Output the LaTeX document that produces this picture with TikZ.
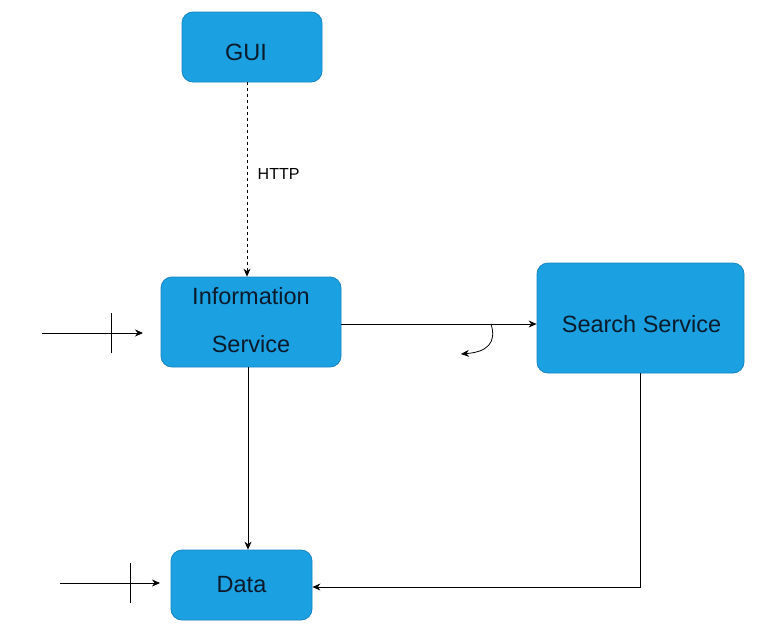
\documentclass[tikz,border=0pt]{standalone}
\usepackage{fontspec}
\setmainfont{Liberation Sans}
\usetikzlibrary{arrows.meta, positioning}

\definecolor{boxfill}{HTML}{1BA1E2}
\definecolor{boxline}{HTML}{1683C0}
\definecolor{boxtext}{HTML}{0B1A2A}

% shift a label inside its box: #1 = twice the x shift, #2 = y shift
\newcommand{\nudge}[3]{\hspace*{#1}\raisebox{#2}[\height][\depth]{#3}}

\tikzset{
  svc/.style={draw=boxline, fill=boxfill, rounded corners=11pt, line width=0.8pt,
              inner sep=0pt, align=center, text=boxtext,
              font=\fontsize{23.5}{28}\selectfont},
  flow/.style={-{Stealth[length=8pt, width=7pt]}, line width=0.8pt},
  tick/.style={line width=0.8pt}
}

\begin{document}
\begin{tikzpicture}[x=1pt, y=-1pt]
  \useasboundingbox (0,0) rectangle (762,640);
  % Services
  \node[svc, minimum width=140pt, minimum height=70pt] (gui) at (252,47) {\nudge{-12pt}{-5pt}{GUI}};
  \node[svc, minimum width=180pt, minimum height=90pt,
        font=\fontsize{23.5}{48}\selectfont] (info) at (251,322)
        {\nudge{0pt}{2pt}{Information}\\\nudge{0pt}{2pt}{Service}};
  \node[svc, minimum width=207pt, minimum height=110pt] (search) at (640.5,318) {\nudge{2pt}{-6pt}{Search Service}};
  \node[svc, minimum width=141pt, minimum height=70pt] (data) at (241.5,585) {Data};
  % Connectors
  \draw[flow, dashed] ([xshift=-5pt]gui.south) -- ([xshift=-4pt]info.north)
    node[pos=0.47, right=7pt, font=\fontsize{16}{18}\selectfont] {HTTP};
  \draw[flow] ([yshift=-2pt]info.east) -- ([yshift=-2pt]info.east -| search.west);
  \draw[flow] ([xshift=-3pt]info.south) -- ([xshift=-3pt]info.south |- data.north);
  \draw[flow] (search.south) |- ([yshift=-2pt]data.east);
  % Curved arrow
  \coordinate (bendA) at (491,324);
  \coordinate (bendB) at (461,354);
  \draw[flow] (bendA) .. controls (497,343) and (487,352) .. (bendB);
  % Inputs
  \coordinate (inInfo) at (42,333);
  \coordinate (inInfoEnd) at (143,333);
  \coordinate (inData) at (60,583);
  \coordinate (inDataEnd) at (160,583);
  \draw[flow] (inInfo) -- (inInfoEnd);
  \draw[tick] (111,313) -- (111,353);
  \draw[flow] (inData) -- (inDataEnd);
  \draw[tick] (130,563) -- (130,603);
\end{tikzpicture}
\end{document}
